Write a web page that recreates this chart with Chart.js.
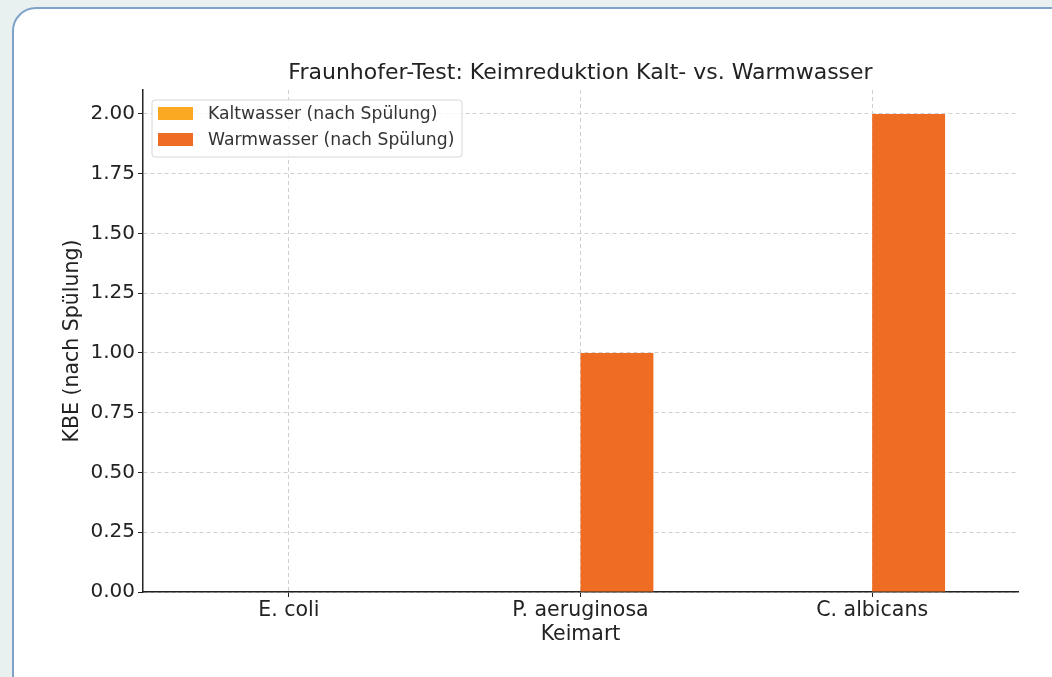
<!DOCTYPE html>
<html>
<head>
<meta charset="utf-8">
<script src="https://cdn.jsdelivr.net/npm/chart.js@4"></script>
<style>
  html, body { margin: 0; padding: 0; background: #e8f0f0; overflow: hidden; }
  #card {
    position: absolute; left: 12px; top: 7px; width: 1070px; height: 720px;
    background: #fff; border: 2px solid #7fa2cb; border-radius: 24px;
  }
  #chart { position: absolute; left: 0; top: 0; }
</style>
</head>
<body>
<div id="card"></div>
<canvas id="chart" width="1052" height="677"></canvas>
<script>
const categories = ['E. coli', 'P. aeruginosa', 'C. albicans']
const kaltwasser = [0, 0, 0]
const warmwasser = [0, 1, 2]
const yTicks = [0, 0.25, 0.5, 0.75, 1.0, 1.25, 1.5, 1.75, 2.0]
const chartTitle = 'Fraunhofer-Test: Keimreduktion Kalt- vs. Warmwasser'

const FONT = "'DejaVu Sans', sans-serif"

// title centred over the plot area + legend box inside the plot (upper left)
const insideLegend = {
    id: 'insideLegend',
    afterDraw(chart){
        const ctx = chart.ctx
        const a = chart.chartArea
        ctx.save()
        ctx.fillStyle = '#222'
        ctx.font = '22px ' + FONT
        ctx.textAlign = 'center'
        ctx.textBaseline = 'middle'
        ctx.fillText(chartTitle, (a.left + a.right) / 2, a.top - 17)

        const x = a.left + 9, y = a.top + 10
        const w = 310, h = 57
        ctx.fillStyle = 'rgba(255,255,255,0.8)'
        ctx.strokeStyle = '#d6d6d6'
        ctx.lineWidth = 1
        ctx.beginPath()
        ctx.roundRect(x, y, w, h, 3)
        ctx.fill()
        ctx.stroke()
        ctx.font = '17.2px ' + FONT
        ctx.textAlign = 'left'
        chart.data.datasets.forEach((ds, i) => {
            const cy = y + 13.5 + i * 26
            ctx.fillStyle = ds.backgroundColor
            ctx.fillRect(x + 6, cy - 6.5, 35, 13)
            ctx.fillStyle = '#333'
            ctx.fillText(ds.label, x + 56, cy + 1)
        })
        ctx.restore()
    }
}

const ctx = document.getElementById('chart').getContext('2d')
const myChart = new Chart(ctx, {
    type: 'bar',
    data: {
        labels: categories,
        datasets: [{
            label: 'Kaltwasser (nach Spülung)',
            data: kaltwasser,
            backgroundColor: '#fba922',
            categoryPercentage: 0.5,
            barPercentage: 1.0
        }, {
            label: 'Warmwasser (nach Spülung)',
            data: warmwasser,
            backgroundColor: '#ef6c23',
            categoryPercentage: 0.5,
            barPercentage: 1.0
        }]
    },
    options: {
        responsive: false,
        animation: false,
        layout: { padding: { top: 90, right: 34, left: 0, bottom: 0 } },
        plugins: {
            legend: { display: false },
            tooltip: { enabled: false },
            title: { display: false }
        },
        scales: {
            x: {
                grid: {
                    offset: false,
                    color: '#cfcfcf',
                    lineWidth: 1,
                    tickLength: 5,
                    tickColor: '#222'
                },
                border: { color: '#222', width: 1.5, dash: [4, 3] },
                ticks: { color: '#222', font: { family: FONT, size: 20.5 }, padding: 1 },
                title: {
                    display: true, text: 'Keimart', color: '#222',
                    font: { family: FONT, size: 20.5 }, padding: { top: 0, bottom: 30 }
                },
                afterFit(scale){ scale.height = 85 }
            },
            y: {
                min: 0,
                max: 2.1,
                afterBuildTicks(scale){ scale.ticks = yTicks.map(v => ({ value: v })) },
                grid: {
                    color: '#cfcfcf',
                    lineWidth: 1,
                    tickLength: 5,
                    tickColor: '#222'
                },
                border: { color: '#222', width: 1.5, dash: [4, 3] },
                ticks: {
                    color: '#222', font: { family: FONT, size: 20 }, padding: 3,
                    callback: v => Number(v).toFixed(2)
                },
                title: {
                    display: true, text: 'KBE (nach Spülung)', color: '#222',
                    font: { family: FONT, size: 20.5 }, padding: { top: 60, bottom: 0 }
                },
                afterFit(scale){ scale.width = 143 }
            }
        }
    },
    plugins: [insideLegend]
})
</script>
</body>
</html>
